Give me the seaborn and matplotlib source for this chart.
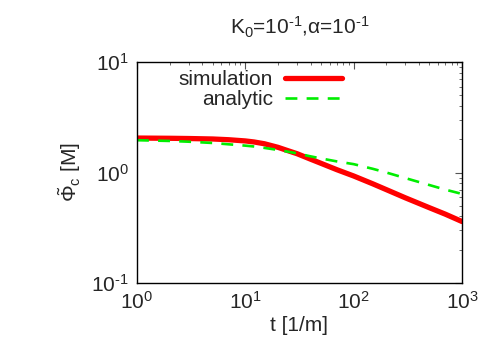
import matplotlib

matplotlib.use("Agg")

import numpy as np
import seaborn as sns
import pandas as pd
from matplotlib import pyplot as plt
from matplotlib.ticker import FuncFormatter, LogLocator, NullFormatter

# values
t_values = [1, 2, 3, 5, 7, 10, 12, 15, 20, 25, 30, 40, 50, 70, 100, 150, 200,
            300, 500, 700, 1000]
simulation = [2.05, 2.04, 2.03, 2.01, 1.98, 1.93, 1.89, 1.82, 1.69, 1.57, 1.48,
              1.32, 1.21, 1.06, 0.93, 0.79, 0.70, 0.59, 0.48, 0.42, 0.36]
analytic = [1.96, 1.93, 1.90, 1.85, 1.80, 1.75, 1.72, 1.67, 1.60, 1.54, 1.49,
            1.40, 1.34, 1.26, 1.19, 1.08, 1.00, 0.89, 0.77, 0.70, 0.64]

frame = pd.DataFrame({"t": t_values, "simulation": simulation, "analytic": analytic})

sns.set_theme(style="white")
plt.rcParams["font.family"] = ["Liberation Sans", "DejaVu Sans"]
plt.rcParams["mathtext.fontset"] = "custom"
plt.rcParams["mathtext.rm"] = "Liberation Sans"
plt.rcParams["mathtext.it"] = "Liberation Sans"

fs = 15
HYPHEN = "\u2010"


def power_label(value, _pos):
    exponent = int(round(np.log10(value)))
    return "10$^{" + str(exponent).replace("-", HYPHEN) + "}$"


fig = plt.figure(figsize=(5, 3.5), dpi=100)
ax = fig.add_axes([137 / 500, 1 - 283 / 350, 325 / 500, 221 / 350])

sns.lineplot(data=frame, x="t", y="simulation", ax=ax, color="#ff0000",
             linewidth=3.8, label="simulation")
sns.lineplot(data=frame, x="t", y="analytic", ax=ax, color="#00ee00",
             linewidth=1.9, label="analytic")
ax.lines[1].set_dashes((4.5, 3.5))

ax.set_xscale("log")
ax.set_yscale("log")
ax.set_xlim(1, 1000)
ax.set_ylim(0.1, 10)

for axis in (ax.xaxis, ax.yaxis):
    axis.set_major_locator(LogLocator(base=10, numticks=10))
    axis.set_minor_locator(LogLocator(base=10, subs=range(2, 10), numticks=10))
    axis.set_major_formatter(FuncFormatter(power_label))
    axis.set_minor_formatter(NullFormatter())

ax.tick_params(which="both", direction="in", top=True, right=True,
               color="#555555", labelsize=fs, pad=6)
ax.tick_params(which="major", length=5, width=0.8)
ax.tick_params(which="minor", length=2.5, width=0.6)
for spine in ax.spines.values():
    spine.set_color("black")
    spine.set_linewidth(1.0)

ax.set_xlabel("t [1/m]", fontsize=fs, labelpad=2)
ax.set_ylabel(r"$\tilde{\Phi}_{\mathrm{c}}$ [M]", fontsize=fs, labelpad=6)
ax.set_title("K$_0$=10$^{" + HYPHEN + "1}$,$\\alpha$=10$^{" + HYPHEN + "1}$",
             fontsize=fs, pad=20)

ax.legend(loc="upper right", bbox_to_anchor=(0.665, 1.015), frameon=False,
          markerfirst=False, fontsize=fs, handlelength=2.7,
          handletextpad=0.6, labelspacing=0.05, borderaxespad=0.15)

fig.savefig("out.png", dpi=100)
